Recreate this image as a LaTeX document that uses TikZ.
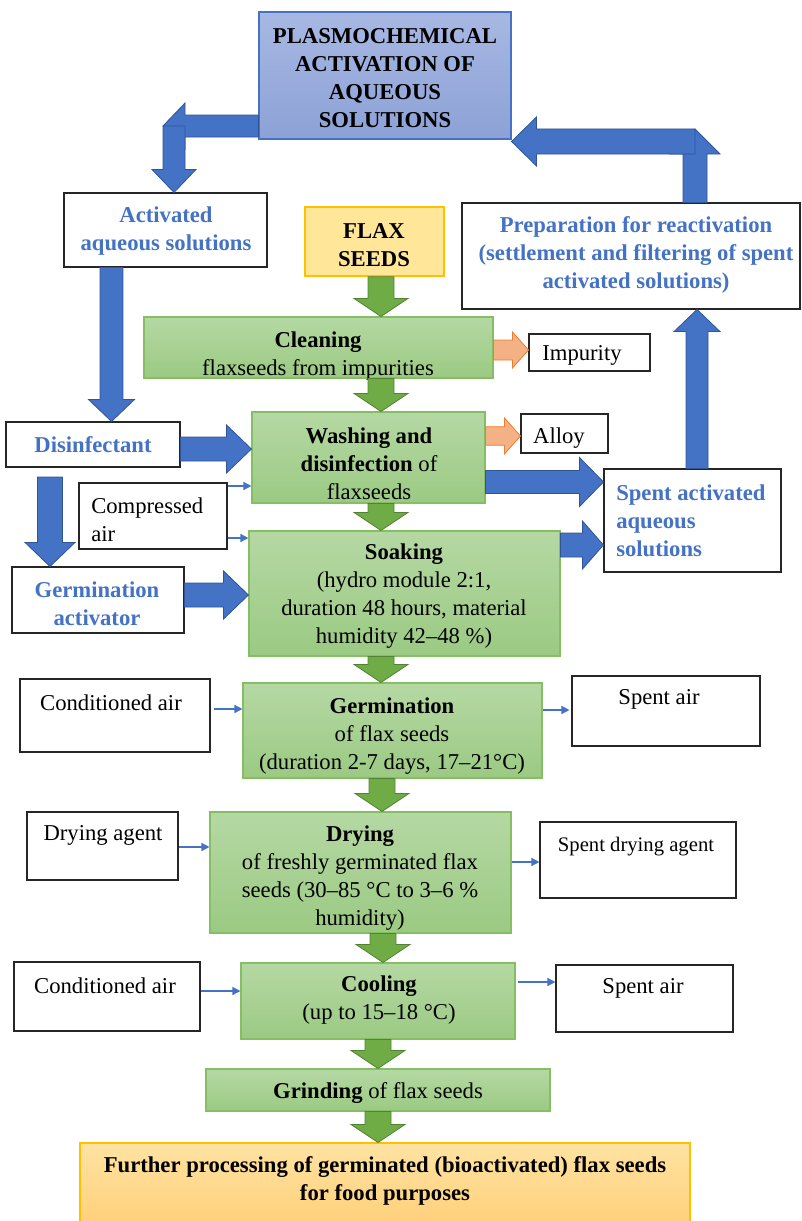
\documentclass[tikz,border=0pt]{standalone}
\usepackage{fontspec}
\setmainfont{Liberation Serif}
\usetikzlibrary{calc,fit,arrows.meta}
\definecolor{blueT}{HTML}{4472C4}
\definecolor{blueA}{HTML}{4472C4}
\definecolor{blueD}{HTML}{2F5597}
\definecolor{gtop}{HTML}{B5D8A3}
\definecolor{gbot}{HTML}{9BCA83}
\definecolor{gline}{HTML}{86BE64}
\definecolor{garr}{HTML}{6FAC46}
\definecolor{garrD}{HTML}{548235}
\definecolor{oarr}{HTML}{F4B183}
\definecolor{oline}{HTML}{ED7D31}
\definecolor{ptop}{HTML}{A8B8E3}
\definecolor{pbot}{HTML}{8CA1D6}
\definecolor{yfill}{HTML}{FFE699}
\definecolor{yline}{HTML}{FFC000}
\definecolor{ftop}{HTML}{FFE3A3}
\definecolor{fbot}{HTML}{FFD07A}
% block arrow: #1 style, #2 from, #3 tip, #4 shaft half width, #5 head half width, #6 head length
\newcommand{\blockarr}[6]{%
  \path (#2) coordinate (bA) (#3) coordinate (bB);
  \path ($(bB)!#6!(bA)$) coordinate (bH);
  \draw[#1] ($(bA)!#4!90:(bB)$) -- ($(bH)!#4!90:(bB)$) -- ($(bH)!#5!90:(bB)$) -- (bB)
    -- ($(bH)!#5!-90:(bB)$) -- ($(bH)!#4!-90:(bB)$) -- ($(bA)!#4!-90:(bB)$) -- cycle;
}
\begin{document}
\begin{tikzpicture}[x=0.75pt,y=-0.75pt,
  wbox/.style={draw=black!85, line width=0.8pt, fill=white, inner sep=0pt},
  gbox/.style={draw=gline, line width=0.8pt, top color=gtop, bottom color=gbot, inner sep=0pt},
  txt/.style={font=\fontsize{17}{21}\selectfont, align=center, inner sep=0pt, yshift=-2pt},
  hdr/.style={txt, font=\fontsize{17}{21}\selectfont\bfseries},
  btxt/.style={txt, text=blueT, font=\fontsize{17}{21}\selectfont\bfseries},
  bluearr/.style={fill=blueA, draw=blueD, line width=0.6pt},
  greenarr/.style={fill=garr, draw=garrD, line width=0.6pt},
  orarr/.style={fill=oarr, draw=oline, line width=0.6pt},
  thinarr/.style={draw=blueA, line width=1pt, -{Triangle[length=6pt,width=6pt]}},
]
\useasboundingbox (0,0) rectangle (801,1221);

% ---------- boxes ----------
\node[draw=blueT, line width=0.8pt, top color=ptop, bottom color=pbot, inner sep=0pt, fit={(259,12)(511,139)}] (plasmo) {};
\node[hdr] (plasmo-t) at (385,75) {PLASMOCHEMICAL\\ACTIVATION OF\\AQUEOUS\\SOLUTIONS};

\node[wbox, fit={(64,193)(267,267)}] (act) {};
\node[btxt] (act-t) at (166,228) {Activated\\aqueous solutions};

\node[draw=yline, line width=1.2pt, fill=yfill, inner sep=0pt, fit={(305,207)(444,276)}] (flax) {};
\node[hdr] (flax-t) at (374,242) {FLAX\\SEEDS};

\node[wbox, fit={(462,203)(800,309)}] (prep) {};
\node[btxt] (prep-t) at (636,252) {Preparation for reactivation\\(settlement and filtering of spent\\activated solutions)};

\node[gbox, fit={(144,317)(493,378)}] (clean) {};
\node[txt] (clean-t) at (318,353) {\textbf{Cleaning}\\flaxseeds from impurities};

\node[wbox, fit={(529,334)(650,371)}] (imp) {};
\node[txt] (imp-t) at (582,353) {Impurity};

\node[gbox, fit={(252,412)(485,503)}] (wash) {};
\node[txt] (wash-t) at (369,461) {\textbf{Washing and}\\\textbf{disinfection} of\\flaxseeds};

\node[wbox, fit={(521,414)(608,453)}] (alloy) {};
\node[txt] (alloy-t) at (559,435) {Alloy};

\node[wbox, fit={(6,422)(180,467)}] (disinf) {};
\node[btxt] (disinf-t) at (93,442) {Disinfectant};

\node[wbox, fit={(79,483)(227,549)}] (comp) {};
\node[txt, align=left, anchor=west] (comp-t) at (91,517) {Compressed\\air};

\node[wbox, fit={(12,567)(184,633)}] (gact) {};
\node[btxt] (gact-t) at (97,601) {Germination\\activator};

\node[gbox, fit={(249,531)(560,656)}] (soak) {};
\node[txt] (soak-t) at (404,593) {\textbf{Soaking}\\(hydro module 2:1,\\duration 48 hours, material\\humidity 42–48 \%)};

\node[wbox, fit={(604,469)(781,572)}] (spent) {};
\node[btxt, align=left, anchor=west] (spent-t) at (616,518) {Spent activated\\aqueous\\solutions};

\node[gbox, fit={(243,683)(542,778)}] (germ) {};
\node[txt] (germ-t) at (392,733) {\textbf{Germination}\\of flax seeds\\(duration 2-7 days, 17–21°C)};

\node[wbox, fit={(20,679)(210,752)}] (ca1) {};
\node[txt] (ca1-t) at (111,700) {Conditioned air};

\node[wbox, fit={(572,676)(760,746)}] (sa1) {};
\node[txt] (sa1-t) at (659,697) {Spent air};

\node[gbox, fit={(210,812)(511,933)}] (dry) {};
\node[txt] (dry-t) at (360,875) {\textbf{Drying}\\of freshly germinated flax\\seeds (30–85 °C to 3–6 \%\\humidity)};

\node[wbox, fit={(27,812)(178,880)}] (da) {};
\node[txt] (da-t) at (103,833) {Drying agent};

\node[wbox, fit={(540,822)(736,898)}] (sda) {};
\node[txt, font=\fontsize{15.5}{21}\selectfont] (sda-t) at (636,844) {Spent drying agent};

\node[gbox, fit={(241,963)(515,1039)}] (cool) {};
\node[txt] (cool-t) at (379,997) {\textbf{Cooling}\\(up to 15–18 °C)};

\node[wbox, fit={(14,962)(200,1031)}] (ca2) {};
\node[txt] (ca2-t) at (105,983) {Conditioned air};

\node[wbox, fit={(556,965)(733,1032)}] (sa2) {};
\node[txt] (sa2-t) at (643,986) {Spent air};

\node[gbox, fit={(206,1069)(550,1111)}] (grind) {};
\node[txt] (grind-t) at (378,1090) {\textbf{Grinding} of flax seeds};

\node[draw=yline, line width=0.8pt, top color=ftop, bottom color=fbot, inner sep=0pt, fit={(80,1143)(690,1224)}] (further) {};
\node[hdr] (further-t) at (385,1178) {Further processing of germinated (bioactivated) flax seeds\\for food purposes};

% ---------- helper coordinates ----------
\coordinate (xL1) at (174,0);
\coordinate (yL1) at (0,126);
\coordinate (xR1) at (695,0);
\coordinate (yR1) at (0,141.5);
\coordinate (xA) at (111.5,0);
\coordinate (yDW) at (0,449);
\coordinate (xDG) at (50,0);
\coordinate (yGS) at (0,595);
\coordinate (yWS) at (0,482);
\coordinate (ySS) at (0,545);
\coordinate (xSP) at (697,0);
\coordinate (gx1) at (381,0);
\coordinate (gx2) at (382,0);
\coordinate (gx3) at (383,0);
\coordinate (gx4) at (378,0);
\coordinate (yCI) at (0,350);
\coordinate (yWA) at (0,436);

% ---------- blue block arrows ----------
\blockarr{bluearr}{plasmo.west |- yL1}{163,126}{8.25pt}{17.25pt}{16.5pt}
\blockarr{bluearr}{xL1 |- yL1}{xL1 |- act.north}{8.25pt}{16.5pt}{17.25pt}
\blockarr{bluearr}{xR1 |- prep.north}{695,129}{9pt}{18.75pt}{18.75pt}
\blockarr{bluearr}{xR1 |- yR1}{plasmo.east |- yR1}{9.4pt}{18.4pt}{18.75pt}
\blockarr{bluearr}{xA |- act.south}{xA |- disinf.north}{8.6pt}{17.25pt}{16.5pt}
\blockarr{bluearr}{disinf.east |- yDW}{wash.west |- yDW}{9pt}{18pt}{18.75pt}
\blockarr{bluearr}{50,477}{xDG |- gact.north}{9.4pt}{18.75pt}{18pt}
\blockarr{bluearr}{gact.east |- yGS}{soak.west |- yGS}{9pt}{18pt}{18.75pt}
\blockarr{bluearr}{wash.east |- yWS}{spent.west |- yWS}{8.6pt}{18.4pt}{18pt}
\blockarr{bluearr}{soak.east |- ySS}{spent.west |- ySS}{9pt}{18pt}{15.75pt}
\blockarr{bluearr}{xSP |- spent.north}{xSP |- prep.south}{8.25pt}{17.25pt}{16.5pt}

% ---------- green block arrows ----------
\blockarr{greenarr}{gx1 |- flax.south}{gx1 |- clean.north}{9.75pt}{20.25pt}{13.5pt}
\blockarr{greenarr}{gx1 |- clean.south}{gx1 |- wash.north}{9.75pt}{20.25pt}{13.5pt}
\blockarr{greenarr}{gx1 |- wash.south}{gx1 |- soak.north}{9.75pt}{20.25pt}{13.5pt}
\blockarr{greenarr}{gx1 |- soak.south}{gx1 |- germ.north}{9.75pt}{20.25pt}{13.5pt}
\blockarr{greenarr}{gx2 |- germ.south}{gx2 |- dry.north}{9.75pt}{20.25pt}{13.5pt}
\blockarr{greenarr}{gx3 |- dry.south}{gx3 |- cool.north}{9.75pt}{20.25pt}{13.5pt}
\blockarr{greenarr}{gx4 |- cool.south}{gx4 |- grind.north}{9.75pt}{20.25pt}{13.5pt}
\blockarr{greenarr}{gx4 |- grind.south}{gx4 |- further.north}{9.75pt}{20.25pt}{13.5pt}

% ---------- orange block arrows ----------
\blockarr{orarr}{clean.east |- yCI}{imp.west |- yCI}{7.5pt}{13.5pt}{12pt}
\blockarr{orarr}{wash.east |- yWA}{alloy.west |- yWA}{7pt}{13.5pt}{12pt}

% ---------- thin arrows ----------
\draw[thinarr] (comp.east |- 0,486) -- (wash.west |- 0,486);
\draw[thinarr] (comp.east |- 0,538) -- (soak.west |- 0,538);
\draw[thinarr] ($(ca1.east |- 0,709)+(3,0)$) -- (germ.west |- 0,709);
\draw[thinarr] (germ.east |- 0,710) -- ($(sa1.west |- 0,710)+(-2,0)$);
\draw[thinarr] (da.east |- 0,847) -- (dry.west |- 0,847);
\draw[thinarr] (dry.east |- 0,862) -- (sda.west |- 0,862);
\draw[thinarr] (ca2.east |- 0,991) -- (cool.west |- 0,991);
\draw[thinarr] ($(cool.east |- 0,982)+(2,0)$) -- (sa2.west |- 0,982);
\end{tikzpicture}
\end{document}
